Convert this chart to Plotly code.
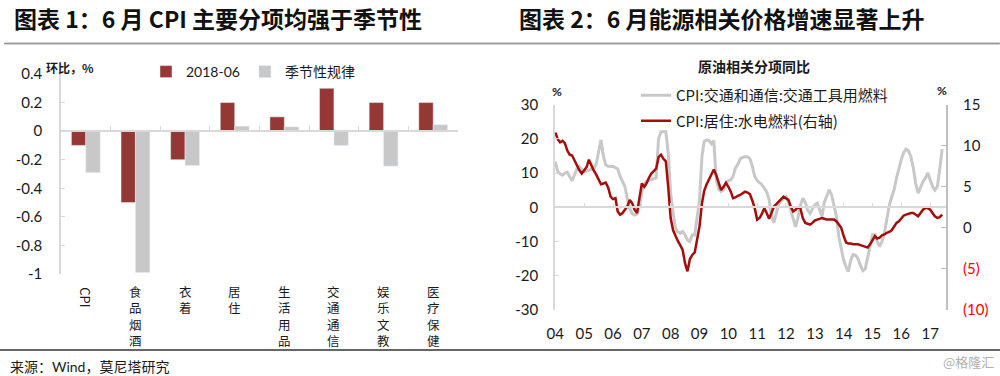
import plotly.graph_objects as go
import pandas as pd

# ---------------- data: left chart ----------------
categories = ["CPI", "食品烟酒", "衣着", "居住", "生活用品", "交通通信", "娱乐文教", "医疗保健"]
cpi_2018_06 = [-0.1, -0.5, -0.2, 0.2, 0.1, 0.3, 0.2, 0.2]
seasonal_rule = [-0.29, -0.99, -0.24, 0.035, 0.03, -0.1, -0.245, 0.045]
bar_tickvals = [0.4, 0.2, 0, -0.2, -0.4, -0.6, -0.8, -1]
bar_ticktext = ["0.4", "0.2", "0", "-0.2", "-0.4", "-0.6", "-0.8", "-1"]

# ---------------- data: right chart ----------------
months = pd.date_range("2004-01-01", "2017-06-01", freq="MS")
fuel_transport = [
    13.3, 10.4, 9.8, 9.4, 10.0, 10.2, 8.9, 7.8, 9.5, 11.2,
    11.9, 11.0, 10.4, 10.6, 10.9, 11.1, 11.3, 12.5, 16.0, 19.7,
    15.0, 12.4, 12.0, 12.0, 11.9, 11.6, 11.2, 9.0, 7.5, 6.0,
    2.5, -0.5, -1.9, -2.3, -2.0, 0.2, 4.5, 6.8, 7.6, 7.8,
    8.0, 8.2, 8.6, 20.0, 22.1, 22.1, 22.1, 16.0, 4.0, -1.5,
    -6.0, -7.2, -7.6, -7.1, -8.0, -9.6, -10.0, -8.1, -8.1, -3.0,
    2.1, 15.0, 19.2, 19.7, 19.5, 18.5, 19.5, 8.0, 5.3, 4.6,
    5.2, 7.0, 7.8, 8.0, 9.0, 11.5, 12.5, 14.2, 14.5, 14.8,
    14.7, 14.2, 12.0, 9.0, 7.8, 7.2, 6.6, 5.6, 4.5, 2.3,
    -2.5, -4.5, -2.0, 1.0, 1.8, 2.5, 3.1, 1.5, -0.8, -3.5,
    -5.7, -3.0, 0.5, 2.6, 1.5, -0.8, -1.8, -0.5, 0.8, 1.2,
    -0.5, -2.7, 1.5, 3.5, 5.1, 3.6, 0.5, -2.7, -8.6, -12.5,
    -15.5, -17.5, -18.8, -15.4, -13.8, -14.0, -15.0, -17.0, -18.5, -18.0,
    -14.4, -10.5, -8.0, -8.0, -10.0, -11.5, -10.0, -7.5, -4.0, 0.5,
    3.0, 5.1, 8.5, 11.5, 14.0, 16.0, 17.0, 16.5, 14.8, 11.5,
    7.0, 4.1, 6.0, 7.5, 8.5, 10.1, 8.0, 6.0, 5.0, 6.0,
    11.0, 17.0,
]
utilities_fuel = [
    11.6, 10.8, 10.4, 10.6, 10.3, 9.4, 8.9, 8.8, 8.2, 7.6,
    7.0, 6.6, 7.0, 7.4, 8.3, 7.6, 7.0, 6.5, 5.8, 5.3,
    5.4, 5.5, 4.9, 3.8, 3.5, 3.6, 2.0, 1.6, 1.8, 2.2,
    2.6, 3.4, 3.0, 2.2, 1.8, 3.6, 5.4, 5.0, 5.4, 6.1,
    6.6, 6.9, 7.2, 8.6, 8.9, 8.4, 8.1, 5.0, 1.2, -0.3,
    -1.0, -1.6, -2.1, -2.7, -4.3, -5.3, -3.8, -3.3, -3.0, -1.5,
    0.2, 3.0, 4.5, 5.3, 5.9, 6.6, 7.1, 6.4, 5.6, 4.6,
    5.0, 5.5, 5.0, 4.4, 3.6, 3.7, 3.9, 4.0, 4.2, 4.4,
    4.3, 4.1, 3.3, 2.4, 1.0, 1.2, 1.7, 2.4, 1.8, 1.1,
    1.8, 2.6, 2.9, 3.2, 3.5, 3.8, 3.6, 3.4, 2.6, 2.0,
    2.2, 2.5, 2.4, 1.2, 0.6, 0.5, 0.4, 0.6, 0.9, 1.0,
    1.1, 1.2, 1.1, 1.0, 1.0, 1.0, 1.0, 0.8, 0.4, 0.0,
    -1.0, -1.8, -1.9, -1.9, -2.0, -2.0, -2.0, -2.1, -2.2, -2.3,
    -2.4, -2.0, -1.4, -1.0, -1.3, -1.2, -0.9, -0.8, -0.6, -0.5,
    -0.3, 0.2, 0.6, 0.8, 1.2, 1.5, 1.6, 1.7, 1.8, 1.8,
    1.6, 1.4, 1.8, 2.2, 2.4, 2.4, 2.2, 1.8, 1.4, 1.2,
    1.3, 1.6,
]
year_ticks = pd.date_range("2004-01-01", "2017-01-01", freq="YS")
year_labels = ["04", "05", "06", "07", "08", "09", "10", "11", "12", "13", "14", "15", "16", "17"]
left_tickvals = [30, 20, 10, 0, -10, -20, -30]
left_ticktext = ["30", "20", "10", "0", "-10", "-20", "-30"]
right_tickvals = [15, 10, 5, 0, -5, -10]
right_ticktext = ["15", "10", "5", "0", "(5)", "(10)"]

# ---------------- styling ----------------
W, H = 1000, 376
NUM_FONT = "Lato, 'Noto Sans CJK SC', sans-serif"
CJK_FONT = "'Noto Sans CJK SC', sans-serif"
STACK_FONT = "'DejaVu Sans', 'Noto Sans CJK SC', sans-serif"
RED_BAR = "#953735"
GRAY_BAR = "#c8c8c8"
GRAY_LINE = "#c8c8c8"
RED_LINE = "#a50d0d"
AXIS_GRAY = "#d9d9d9"


def py(pix):
    return 1 - pix / H


fig = go.Figure()

# left chart bars
fig.add_trace(go.Bar(x=categories, y=cpi_2018_06, name="2018-06", marker_color=RED_BAR,
                     xaxis="x", yaxis="y", legend="legend"))
fig.add_trace(go.Bar(x=categories, y=seasonal_rule, name="季节性规律", marker_color=GRAY_BAR,
                     xaxis="x", yaxis="y", legend="legend"))

# right chart lines
fig.add_trace(go.Scatter(x=months, y=fuel_transport, mode="lines",
                         name="CPI:交通和通信:交通工具用燃料",
                         line=dict(color=GRAY_LINE, width=3),
                         xaxis="x2", yaxis="y2", legend="legend2", legendgroup="a"))
fig.add_trace(go.Scatter(x=months, y=utilities_fuel, mode="lines",
                         name="CPI:居住:水电燃料(右轴)",
                         line=dict(color=RED_LINE, width=2.5),
                         xaxis="x2", yaxis="y3", legend="legend2", legendgroup="b"))

# domains
ly_dom = [py(274), py(74)]
lx_dom = [61 / W, 458 / W]
l_range = [-1, 0.4]
l_zero = ly_dom[0] + (0 - l_range[0]) / (l_range[1] - l_range[0]) * (ly_dom[1] - ly_dom[0])

ry_dom = [py(310), py(104.6)]
rx_dom = [555 / W, 946 / W]
r_range = [-30, 30]
r_zero = ry_dom[0] + (0 - r_range[0]) / (r_range[1] - r_range[0]) * (ry_dom[1] - ry_dom[0])

right_ticktext_styled = [
    t if not t.startswith("(") else f"<span style='color:#ff0000'>{t}</span>" for t in right_ticktext
]

fig.update_layout(
    width=W, height=H, autosize=False,
    margin=dict(l=0, r=0, t=0, b=0, pad=0, autoexpand=False),
    paper_bgcolor="white", plot_bgcolor="white",
    barmode="group", bargap=0.42, bargroupgap=0,
    font=dict(family=NUM_FONT, size=14, color="#1a1a1a"),
    xaxis=dict(domain=lx_dom, anchor="free", position=l_zero, type="category",
               showline=True, linecolor=AXIS_GRAY, linewidth=1.5,
               ticks="inside", tickson="boundaries", ticklen=4, tickcolor=AXIS_GRAY,
               showticklabels=False, showgrid=False, zeroline=False, automargin=False),
    yaxis=dict(domain=ly_dom, anchor="x", range=l_range,
               tickvals=bar_tickvals, ticktext=bar_ticktext,
               showline=True, linecolor=AXIS_GRAY, linewidth=1.5,
               ticks="inside", ticklen=4, tickcolor=AXIS_GRAY,
               ticklabelstandoff=14, automargin=False,
               tickfont=dict(family=NUM_FONT, size=15, color="#1a1a1a"),
               showgrid=False, zeroline=False),
    xaxis2=dict(domain=rx_dom, anchor="free", position=r_zero, type="date",
                range=["2003-12-28", "2017-07-20"],
                tickvals=year_ticks, ticktext=year_labels,
                showline=True, linecolor=AXIS_GRAY, linewidth=1.5,
                ticks="inside", ticklen=4, tickcolor=AXIS_GRAY,
                ticklabelstandoff=113, automargin=False,
                tickfont=dict(family=NUM_FONT, size=15, color="#1a1a1a"),
                showgrid=False, zeroline=False),
    yaxis2=dict(domain=ry_dom, anchor="x2", range=r_range,
                tickvals=left_tickvals, ticktext=left_ticktext,
                showline=True, linecolor=AXIS_GRAY, linewidth=1.5,
                ticks="inside", ticklen=4, tickcolor=AXIS_GRAY,
                ticklabelstandoff=12, automargin=False,
                tickfont=dict(family=NUM_FONT, size=15, color="#1a1a1a"),
                showgrid=False, zeroline=False),
    yaxis3=dict(domain=ry_dom, anchor="x2", overlaying="y2", side="right", range=[-10, 15],
                tickvals=right_tickvals, ticktext=right_ticktext_styled,
                showline=True, linecolor="#bfbfbf", linewidth=2,
                ticks="inside", ticklen=5, tickcolor="#bfbfbf",
                ticklabelstandoff=12, automargin=False,
                tickfont=dict(family=NUM_FONT, size=15, color="#1a1a1a"),
                showgrid=False, zeroline=False),
    legend=dict(orientation="h", x=0.146, y=py(72), xanchor="left", yanchor="middle",
                font=dict(family=NUM_FONT, size=14, color="#1a1a1a"),
                bgcolor="rgba(0,0,0,0)", itemwidth=30, traceorder="normal"),
    legend2=dict(orientation="v", x=0.636, y=py(79), xanchor="left", yanchor="top",
                 font=dict(family=CJK_FONT, size=15, color="#1a1a1a"),
                 bgcolor="rgba(0,0,0,0)", itemwidth=30, tracegroupgap=3,
                 traceorder="grouped"),
    showlegend=True,
)

annotations = []
# category labels of left chart
for c in categories:
    if c.isascii():
        annotations.append(dict(x=c, xref="x", y=py(297), yref="paper", text=c,
                                textangle=90, showarrow=False, xanchor="center", yanchor="middle",
                                font=dict(family=CJK_FONT, size=13, color="#1a1a1a")))
    else:
        annotations.append(dict(x=c, xref="x", y=py(283), yref="paper", text="<br>".join(c),
                                showarrow=False, xanchor="center", yanchor="top",
                                font=dict(family=STACK_FONT, size=12.5, color="#1a1a1a")))

annotations += [
    dict(x=12 / W, y=py(18), xref="paper", yref="paper", xanchor="left", yanchor="middle",
         text="<b>图表 1：6 月 CPI 主要分项均强于季节性</b>", showarrow=False,
         font=dict(family=CJK_FONT, size=23, color="#111")),
    dict(x=517 / W, y=py(18), xref="paper", yref="paper", xanchor="left", yanchor="middle",
         text="<b>图表 2：6 月能源相关价格增速显著上升</b>", showarrow=False,
         font=dict(family=CJK_FONT, size=23, color="#111")),
    dict(x=44 / W, y=py(67), xref="paper", yref="paper", xanchor="left", yanchor="middle",
         text="<b>环比，%</b>", showarrow=False,
         font=dict(family=CJK_FONT, size=12, color="#1a1a1a")),
    dict(x=754 / W, y=py(66), xref="paper", yref="paper", xanchor="center", yanchor="middle",
         text="<b>原油相关分项同比</b>", showarrow=False,
         font=dict(family=CJK_FONT, size=14, color="#1a1a1a")),
    dict(x=557 / W, y=py(91), xref="paper", yref="paper", xanchor="center", yanchor="middle",
         text="<b>%</b>", showarrow=False,
         font=dict(family=NUM_FONT, size=12, color="#1a1a1a")),
    dict(x=942 / W, y=py(90), xref="paper", yref="paper", xanchor="center", yanchor="middle",
         text="<b>%</b>", showarrow=False,
         font=dict(family=NUM_FONT, size=12, color="#1a1a1a")),
    dict(x=8 / W, y=py(366), xref="paper", yref="paper", xanchor="left", yanchor="middle",
         text="来源：Wind，莫尼塔研究", showarrow=False,
         font=dict(family=NUM_FONT, size=14, color="#1a1a1a")),
    dict(x=996 / W, y=py(361), xref="paper", yref="paper", xanchor="right", yanchor="middle",
         text="@格隆汇", showarrow=False,
         font=dict(family=CJK_FONT, size=13, color="#b0b0b0")),
    # separator rule under the two titles, drawn as a plain arrow line
    dict(x=1.0, y=py(43.5), xref="paper", yref="paper", text="", showarrow=True,
         ax=-996, ay=0, axref="pixel", ayref="pixel", arrowhead=0, arrowwidth=1.5,
         arrowcolor="#999999", standoff=0, startstandoff=0),
]
fig.update_layout(annotations=annotations)

fig.update_layout(shapes=[
    dict(type="line", xref="paper", yref="paper", x0=0, x1=1.0,
         y0=py(350), y1=py(350), line=dict(color="#333333", width=1.5)),
    dict(type="line", xref="paper", yref="paper", x0=0.004, x1=1.0,
         y0=py(43.5), y1=py(43.5), line=dict(color="#999999", width=1.5)),
])

page_fix = ("document.documentElement.style.margin='0';document.body.style.margin='0';"
            "document.body.style.padding='0';document.documentElement.style.overflow='hidden';"
            "document.body.style.overflow='hidden';")
fig.write_html("out.html", post_script=page_fix, config={"displayModeBar": False})
